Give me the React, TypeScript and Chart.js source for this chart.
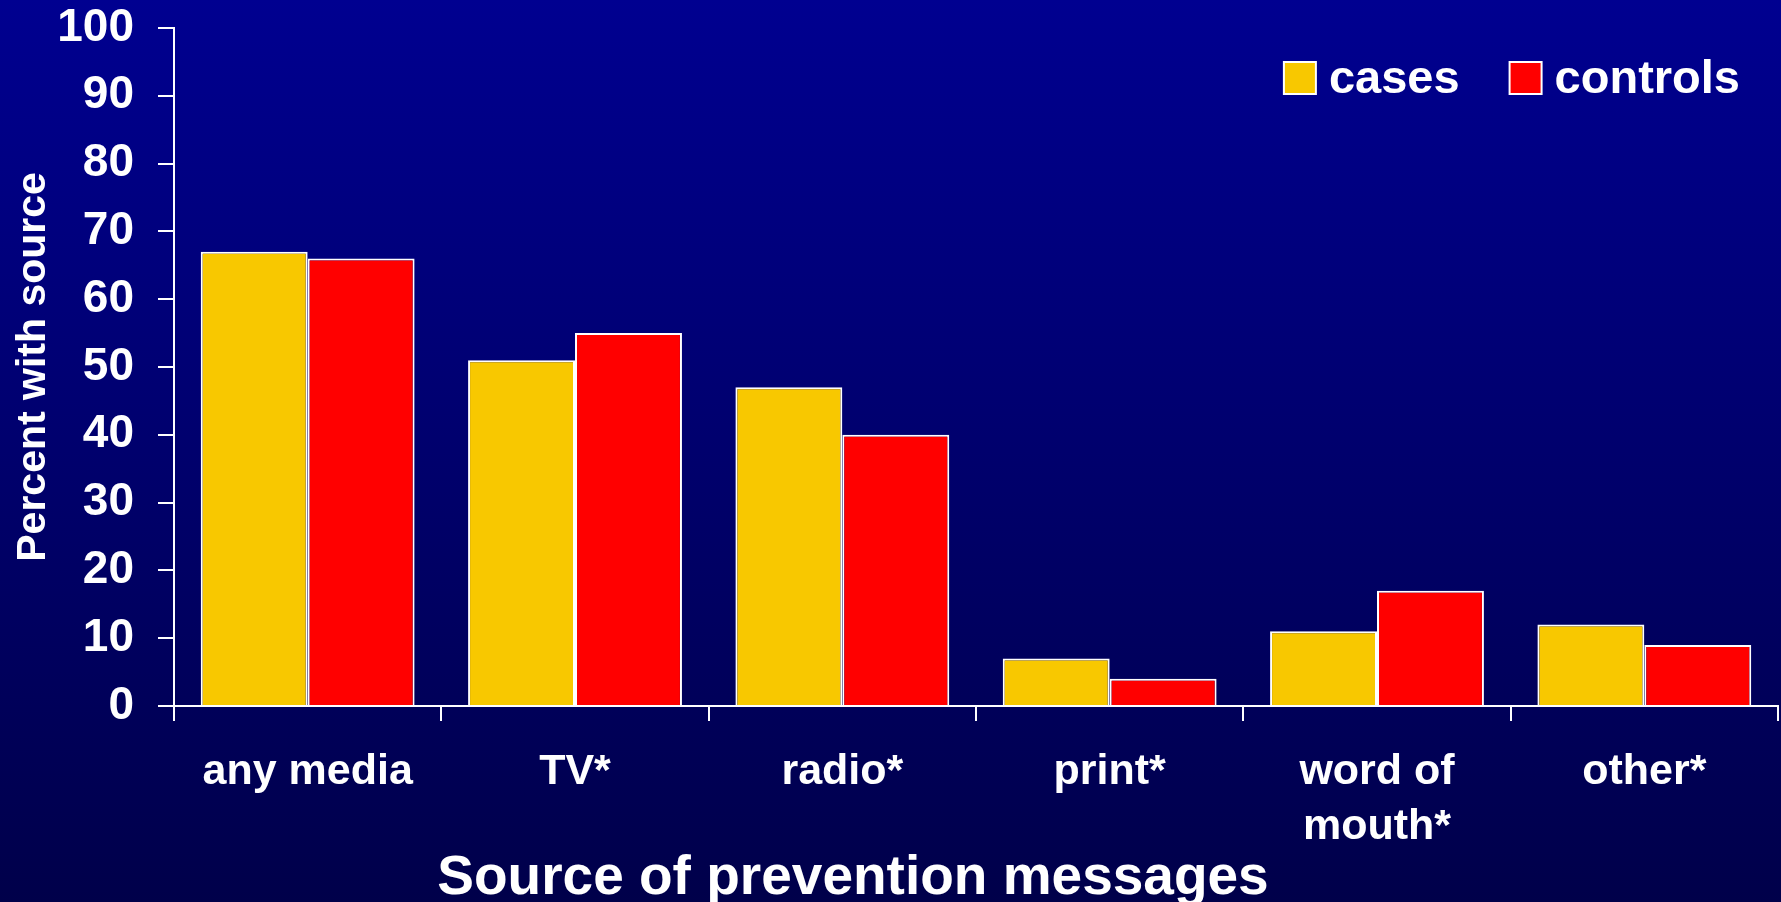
import React, { useEffect, useRef } from 'react';
import { Chart, registerables } from 'chart.js';

Chart.register(...registerables);

const categories: (string | string[])[] = ['any media', 'TV*', 'radio*', 'print*', ['word of', 'mouth*'], 'other*'];
const casesValues = [67, 51, 47, 7, 11, 12];
const controlsValues = [66, 55, 40, 4, 17, 9];
const seriesNames = ['cases', 'controls'];
const seriesColors = ['#F8C800', '#FF0000'];
const yMin = 0;
const yMax = 100;
const yStep = 10;
const xTitle = 'Source of prevention messages';
const yTitle = 'Percent with source';

const FONT = '"Liberation Sans", Arial, Helvetica, sans-serif';

const bgPlugin = {
  id: 'bgGradient',
  beforeDraw(chart: any) {
    const { ctx, width, height } = chart;
    const g = ctx.createLinearGradient(0, 0, 0, height);
    g.addColorStop(0, '#000090');
    g.addColorStop(1, '#00004A');
    ctx.save();
    ctx.fillStyle = g;
    ctx.fillRect(0, 0, width, height);
    ctx.restore();
  },
};

const legendAndTitlePlugin = {
  id: 'legendAndTitle',
  afterDraw(chart: any) {
    const { ctx, chartArea } = chart;
    ctx.save();
    // legend
    ctx.font = `bold 47px ${FONT}`;
    ctx.textBaseline = 'middle';
    ctx.textAlign = 'left';
    const box = 32;
    const gapText = 13;
    const gapItem = 50;
    const items = chart.data.datasets.map((ds: any) => ({
      text: ds.label as string,
      color: ds.backgroundColor as string,
      w: ctx.measureText(ds.label).width,
    }));
    const total =
      items.reduce((s: number, it: any) => s + box + gapText + it.w, 0) + gapItem * (items.length - 1);
    let x = chartArea.right - 38 - total;
    const cy = chartArea.top + 50;
    for (const it of items) {
      ctx.fillStyle = it.color;
      ctx.fillRect(x, cy - box / 2, box, box);
      ctx.strokeStyle = '#FFFFFF';
      ctx.lineWidth = 2;
      ctx.strokeRect(x, cy - box / 2, box, box);
      ctx.fillStyle = '#FFFFFF';
      ctx.fillText(it.text, x + box + gapText, cy + 2);
      x += box + gapText + it.w + gapItem;
    }
    // x axis title
    ctx.font = `bold 55px ${FONT}`;
    ctx.textAlign = 'center';
    ctx.textBaseline = 'alphabetic';
    const tx = chartArea.left + (chartArea.right - chartArea.left) * 0.4233;
    ctx.fillText(xTitle, tx, chart.height - 8);
    ctx.restore();
  },
};

export default function App() {
  const ref = useRef<HTMLCanvasElement | null>(null);

  useEffect(() => {
    if (!ref.current) return;
    const chart = new Chart(ref.current, {
      type: 'bar',
      data: {
        labels: categories as any,
        datasets: [
          {
            label: seriesNames[0],
            data: casesValues,
            backgroundColor: seriesColors[0],
            borderColor: '#FFFFFF',
            borderWidth: 2,
            categoryPercentage: 0.8,
            barPercentage: 1.0,
          },
          {
            label: seriesNames[1],
            data: controlsValues,
            backgroundColor: seriesColors[1],
            borderColor: '#FFFFFF',
            borderWidth: 2,
            categoryPercentage: 0.8,
            barPercentage: 1.0,
          },
        ],
      },
      options: {
        responsive: false,
        animation: false,
        devicePixelRatio: 1,
        layout: { padding: { top: 28, right: 3, bottom: 23, left: 0 } },
        plugins: {
          legend: { display: false },
          tooltip: { enabled: false },
          title: { display: false },
        },
        scales: {
          x: {
            grid: {
              display: true,
              drawOnChartArea: false,
              drawTicks: true,
              tickLength: 15,
              color: '#FFFFFF',
              lineWidth: 2,
              offset: true,
            },
            border: { display: true, color: '#FFFFFF', width: 2 },
            ticks: {
              color: '#FFFFFF',
              font: { family: FONT, size: 43, weight: 'bold', lineHeight: 1.28 },
              padding: 24,
              maxRotation: 0,
              minRotation: 0,
              autoSkip: false,
            },
          },
          y: {
            min: yMin,
            max: yMax,
            afterFit(scale: any) {
              scale.width = 174;
              scale.paddingTop = 0;
              scale.paddingBottom = 0;
            },
            grid: {
              display: true,
              drawOnChartArea: false,
              drawTicks: true,
              tickLength: 16,
              color: '#FFFFFF',
              lineWidth: 2,
            },
            border: { display: true, color: '#FFFFFF', width: 2 },
            ticks: {
              stepSize: yStep,
              color: '#FFFFFF',
              font: { family: FONT, size: 46, weight: 'bold' },
              padding: 24,
            },
            title: {
              display: true,
              text: yTitle,
              color: '#FFFFFF',
              font: { family: FONT, size: 41, weight: 'bold' },
              padding: { top: 9, bottom: 4 },
            },
          },
        },
      },
      plugins: [bgPlugin, legendAndTitlePlugin],
    });
    return () => chart.destroy();
  }, []);

  return (
    <div style={{ position: 'fixed', left: 0, top: 0, width: 1781, height: 902 }}>
      <canvas ref={ref} width={1781} height={902} style={{ display: 'block' }} />
    </div>
  );
}
